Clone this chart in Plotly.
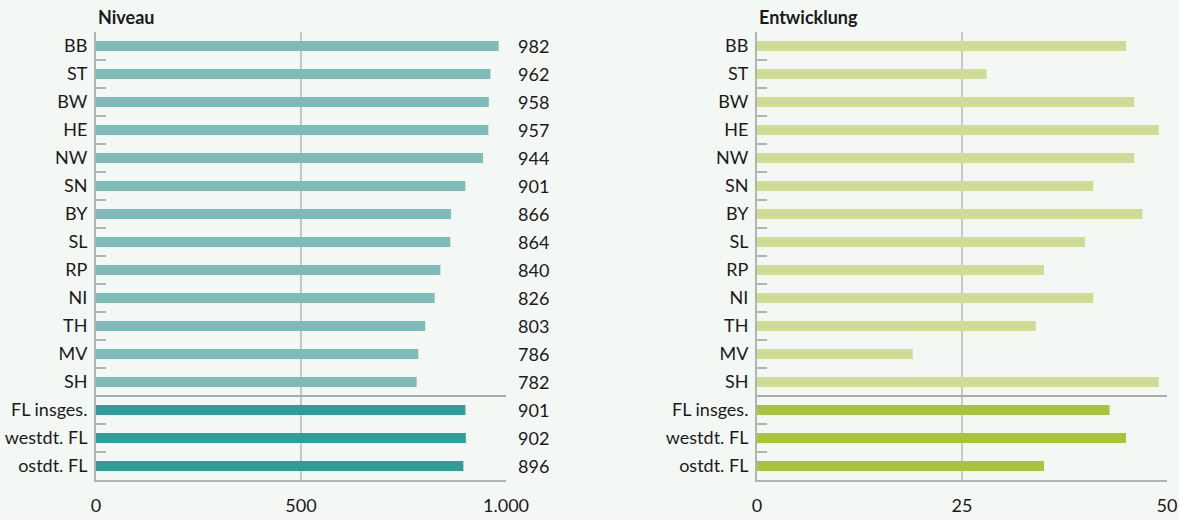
import plotly.graph_objects as go

categories = ["BB", "ST", "BW", "HE", "NW", "SN", "BY", "SL", "RP", "NI", "TH", "MV", "SH",
              "FL insges.", "westdt. FL", "ostdt. FL"]
niveau = [982, 962, 958, 957, 944, 901, 866, 864, 840, 826, 803, 786, 782, 901, 902, 896]
entwicklung = [45, 28, 46, 49, 46, 41, 47, 40, 35, 41, 34, 19, 49, 43, 45, 35]
n_states = 13
left_ticks = [0, 500, 1000]
left_ticktext = ["0", "500", "1.000"]
right_ticks = [0, 25, 50]
right_ticktext = ["0", "25", "50"]

BG = "#f4f8f5"
GRID = "#c4c8c8"
AXIS = "#b0b4b4"
TXT = "#1a1a1a"
FONT = "Lato, 'Open Sans', sans-serif"
FS = 18

left_colors = ["#7fbbb8"] * n_states + ["#2e9e98"] * (len(categories) - n_states)
right_colors = ["#d0dc94"] * n_states + ["#a9c43a"] * (len(categories) - n_states)

fig = go.Figure()
fig.add_trace(go.Bar(y=categories, x=niveau, orientation="h", marker=dict(color=left_colors, line=dict(width=0)),
                     xaxis="x", yaxis="y", hoverinfo="x+y", showlegend=False))
fig.add_trace(go.Bar(y=categories, x=entwicklung, orientation="h", marker=dict(color=right_colors, line=dict(width=0)),
                     xaxis="x2", yaxis="y2", hoverinfo="x+y", showlegend=False))

ax_common = dict(showgrid=True, gridcolor=GRID, gridwidth=1.5, zeroline=False, showline=True,
                 linecolor=AXIS, linewidth=2, ticks="", tickfont=dict(size=FS, color=TXT, family=FONT),
                 ticklabelstandoff=8, fixedrange=True, automargin=False)
y_common = dict(type="category", autorange="reversed", showgrid=False, zeroline=False, showline=True,
                linecolor=AXIS, linewidth=2, ticks="inside", ticklen=10, tickwidth=1.5, tickcolor=AXIS,
                tickson="boundaries", tickfont=dict(size=FS, color=TXT, family=FONT),
                ticklabelstandoff=3, fixedrange=True, automargin=False)

L0, L1 = 96 / 1179, 506 / 1179
R0, R1 = 757 / 1179, 1167 / 1179

fig.update_layout(
    width=1179, height=520,
    paper_bgcolor=BG, plot_bgcolor=BG,
    margin=dict(l=0, r=0, t=32, b=40, autoexpand=False),
    bargap=0.64,
    font=dict(family=FONT, color=TXT, size=FS),
    xaxis=dict(domain=[L0, L1], range=[0, 1000], tickvals=left_ticks, ticktext=left_ticktext, **ax_common),
    yaxis=dict(anchor="x", **y_common),
    xaxis2=dict(domain=[R0, R1], range=[0, 50], tickvals=right_ticks, ticktext=right_ticktext, anchor="y2", **ax_common),
    yaxis2=dict(anchor="x2", **y_common),
)

# separator lines between states and aggregates
sep = n_states - 0.5
fig.add_shape(type="line", xref="x", yref="y", x0=0, x1=1000, y0=sep, y1=sep,
              line=dict(color="#a8acac", width=2))
fig.add_shape(type="line", xref="x2", yref="y2", x0=0, x1=50, y0=sep, y1=sep,
              line=dict(color="#a8acac", width=2))

# value labels right of the left panel
for c, v in zip(categories, niveau):
    fig.add_annotation(x=1000, y=c, xref="x", yref="y", text=str(v), showarrow=False,
                       xanchor="left", xshift=10, font=dict(size=FS, color=TXT, family=FONT))

# panel titles
fig.add_annotation(x=0, y=1, xref="x domain", yref="paper", text="<b>Niveau</b>", showarrow=False,
                   xanchor="left", yanchor="bottom", yshift=2, font=dict(size=18, color=TXT, family=FONT))
fig.add_annotation(x=0, y=1, xref="x2 domain", yref="paper", text="<b>Entwicklung</b>", showarrow=False,
                   xanchor="left", yanchor="bottom", yshift=2, font=dict(size=18, color=TXT, family=FONT))

fig.write_html("out.html", config={"displayModeBar": False},
               post_script="document.body.style.margin='0';document.body.style.overflow='hidden';")
